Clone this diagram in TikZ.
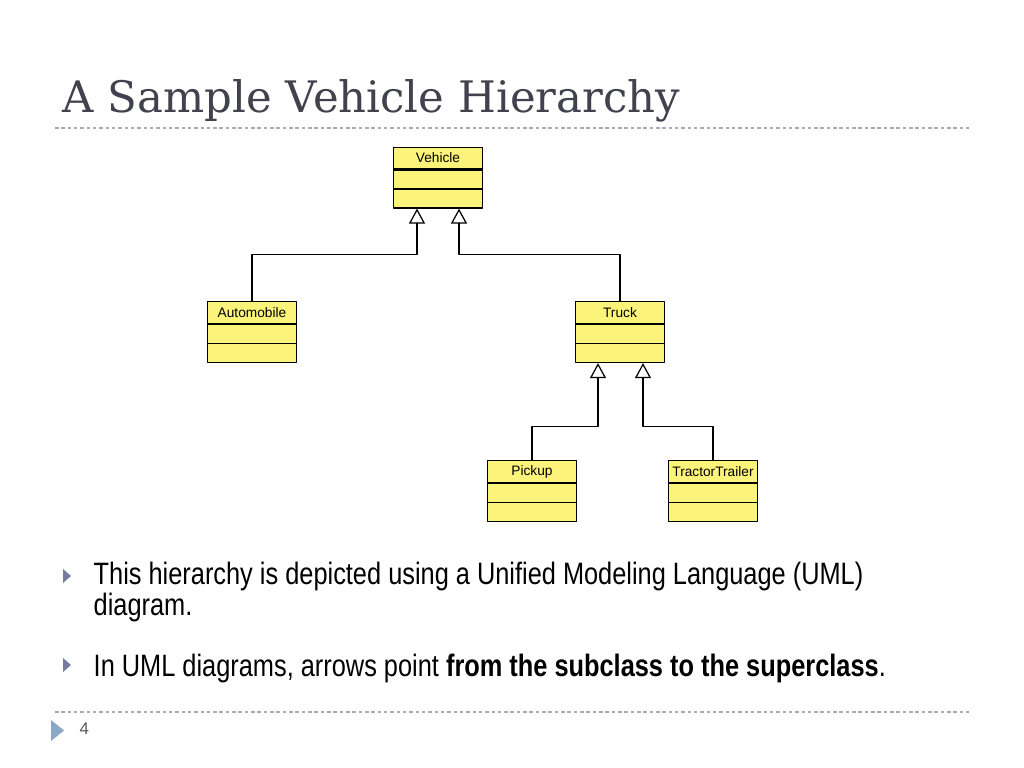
\documentclass[tikz,border=0pt]{standalone}
\usepackage{fontspec}
\setmainfont{Liberation Sans}
\newfontfamily\titlefont{DejaVu Serif}
\newfontfamily\narrowfont[FakeStretch=0.82]{Liberation Sans}
\usetikzlibrary{arrows.meta,positioning}
\definecolor{titlegray}{RGB}{66,66,78}
\definecolor{rulegray}{RGB}{165,172,184}
\definecolor{bulletblue}{RGB}{118,122,158}
\definecolor{pageblue}{RGB}{140,168,200}
\definecolor{umlyellow}{RGB}{252,244,122}
\begin{document}
\begin{tikzpicture}[x=0.1mm,y=-0.1mm, line join=round, >={Triangle[open,length=1.5mm,width=1.6mm]},
  cls/.style={draw, fill=umlyellow, line width=0.35pt, minimum width=8.9mm, minimum height=2.15mm, inner sep=0pt, font=\fontsize{3.9}{4}\selectfont},
  clsbody/.style={draw, fill=umlyellow, line width=0.35pt, minimum width=8.9mm, minimum height=3.8mm, inner sep=0pt, below=0pt of #1},
  gen/.style={->, line width=0.35pt},
  txt/.style={anchor=base west, inner sep=0pt, font=\narrowfont\fontsize{8.8}{10}\selectfont},
  rule/.style={rulegray, line width=0.4pt, dash pattern=on 1pt off 0.8pt}]
\useasboundingbox[fill=white] (0,0) rectangle (1024,768);
% title and rules
\node[anchor=base west, inner sep=0pt, text=titlegray, font=\titlefont\fontsize{12.35}{14}\selectfont] (title) at (62,113) {A Sample Vehicle Hierarchy};
\draw[rule] (55,128) -- (970,128);
\draw[rule] (55,712) -- (970,712);
% classes
\node[cls] (veh) at (438,158) {Vehicle};
\node[clsbody=veh] (veh-b) {};
\node[cls] (auto) at (252,312.5) {Automobile};
\node[clsbody=auto] (auto-b) {};
\node[cls] (truck) at (620,312.5) {Truck};
\node[clsbody=truck] (truck-b) {};
\node[cls] (pick) at (532,471.5) {Pickup};
\node[clsbody=pick] (pick-b) {};
\node[cls] (trac) at (713,471.5) {TractorTrailer};
\node[clsbody=trac] (trac-b) {};
\foreach \c in {veh,auto,truck,pick,trac}{
  \draw[line width=0.7pt] (\c.south west) -- (\c.south east);
  \draw[line width=0.35pt] (\c-b.west) -- (\c-b.east);
}
% generalisation arrows
\draw[gen] (auto.north) -- ++(0,-47) -| ([xshift=-2.1mm]veh-b.south);
\draw[gen] (truck.north) -- ++(0,-47) -| ([xshift=2.1mm]veh-b.south);
\draw[gen] (pick.north) -- ++(0,-34) -| ([xshift=-2.2mm]truck-b.south);
\draw[gen] (trac.north) -- ++(0,-34) -| ([xshift=2.3mm]truck-b.south);
% bullets
\fill[bulletblue] (63,569) -- (71,576) -- (63,583) -- cycle;
\fill[bulletblue] (63,658) -- (71,665) -- (63,672) -- cycle;
\node[txt] (b1) at (93,585) {This hierarchy is depicted using a Unified Modeling Language (UML)};
\node[txt] (b1b) at (93,616) {diagram.};
\node[txt] (b2) at (93,677) {In UML diagrams, arrows point \textbf{from the subclass to the superclass}.};
% page number
\fill[pageblue] (51,720) -- (64,730.5) -- (51,741) -- cycle;
\node[anchor=base west, inner sep=0pt, text=black!65, font=\fontsize{4.8}{5}\selectfont] (page) at (79,735) {4};
\end{tikzpicture}
\end{document}
